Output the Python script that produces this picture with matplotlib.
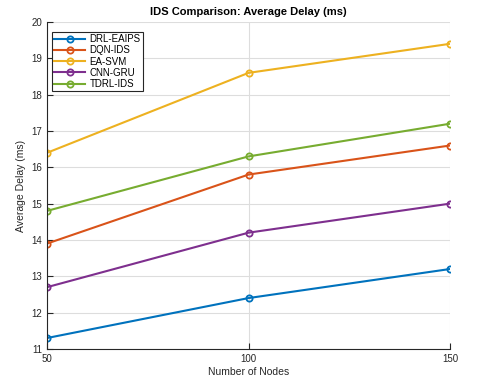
import matplotlib
matplotlib.use("Agg")
import matplotlib.pyplot as plt

nodes = [50, 100, 150]
drl_eaips = [11.3, 12.4, 13.2]
dqn_ids = [13.9, 15.8, 16.6]
ea_svm = [16.4, 18.6, 19.4]
cnn_gru = [12.7, 14.2, 15.0]
tdrl_ids = [14.8, 16.3, 17.2]

series = [
    ("DRL-EAIPS", drl_eaips, "#0072BD"),
    ("DQN-IDS", dqn_ids, "#D95319"),
    ("EA-SVM", ea_svm, "#EDB120"),
    ("CNN-GRU", cnn_gru, "#7E2F8E"),
    ("TDRL-IDS", tdrl_ids, "#77AC30"),
]

plt.rcParams["font.family"] = ["Liberation Sans", "DejaVu Sans"]

fig = plt.figure(figsize=(4.8, 3.83), dpi=100)
ax = fig.add_axes([0.098, 0.089, 0.8395, 0.8535])

for name, vals, col in series:
    ax.plot(nodes, vals, "-o", color=col, lw=1.5, ms=4.5, mfc="none", mew=1.3, label=name)

ax.set_xlim(50, 150)
ax.set_ylim(11, 20)
ax.set_xticks(nodes)
ax.set_yticks(range(11, 21))
ax.grid(True, color="#dddddd", lw=0.8)
ax.set_axisbelow(True)
for s in ["top", "right"]:
    ax.spines[s].set_visible(False)
for s in ["left", "bottom"]:
    ax.spines[s].set_color("#262626")
    ax.spines[s].set_linewidth(0.8)
ax.tick_params(direction="in", length=4, labelsize=7, colors="#262626")

ax.set_title("IDS Comparison: Average Delay (ms)", fontsize=8, fontweight="bold", pad=5)
ax.set_xlabel("Number of Nodes", fontsize=7.5, color="#262626", labelpad=2)
ax.set_ylabel("Average Delay (ms)", fontsize=7.5, color="#262626", labelpad=4)

leg = ax.legend(loc="upper left", bbox_to_anchor=(0.012, 0.97), fontsize=7,
                fancybox=False, edgecolor="#262626", framealpha=1,
                handlelength=3.2, handletextpad=0.4, labelspacing=0.12,
                borderpad=0.25, borderaxespad=0)
leg.get_frame().set_linewidth(0.8)

fig.savefig("out.png", dpi=100)
